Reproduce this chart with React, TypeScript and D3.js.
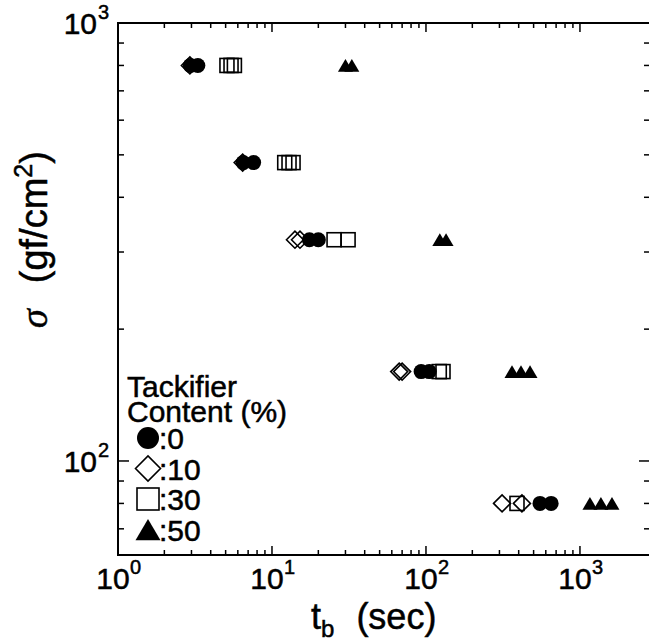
import React from 'react';
import * as d3 from 'd3';

const W = 649;
const H = 643;

// axes
const xDomain: [number, number] = [1, 2850];
const yDomain: [number, number] = [61, 1000];
const xMajorTicks = [1, 10, 100, 1000];
const xTickExps = ['0', '1', '2', '3'];
const yMajorTicks = [100, 1000];
const yTickExps = ['2', '3'];
const minorMultipliers = [2, 3, 4, 5, 6, 7, 8, 9];

// legend
const legendTitle = ['Tackifier', 'Content (%)'];
const contentLabels = [':0', ':10', ':30', ':50'];

// data: [t_b (sec), sigma (gf/cm2)]
const content0: [number, number][] = [
  [2.95, 800], [3.3, 800],
  [6.5, 480], [7.6, 480],
  [17.5, 320], [20.0, 320],
  [93, 160], [105, 160],
  [550, 80], [650, 80],
];
const content10: [number, number][] = [
  [2.93, 800],
  [6.45, 480],
  [14.1, 320], [15.2, 320],
  [67, 160], [70, 160],
  [312, 80], [420, 80],
];
const content30: [number, number][] = [
  [5.1, 800], [5.42, 800], [5.7, 800],
  [12.1, 480], [12.9, 480], [13.7, 480],
  [25.3, 320], [31.2, 320],
  [122, 160], [129, 160],
  [390, 80],
];
const content50: [number, number][] = [
  [30, 800], [33, 800],
  [123, 320], [135, 320],
  [362, 160], [414, 160], [474, 160],
  [1161, 80], [1368, 80], [1614, 80],
];

const FONT = 'Liberation Sans, Arial, Helvetica, sans-serif';

type Kind = 'circle' | 'diamond' | 'square' | 'triangle';

function Marker({ kind, x, y, s }: { kind: Kind; x: number; y: number; s: number }) {
  if (kind === 'circle') return <circle cx={x} cy={y} r={s / 2} fill="#000" />;
  if (kind === 'diamond') {
    const h = s / 2;
    return (
      <path
        d={`M${x - h},${y}L${x},${y - h}L${x + h},${y}L${x},${y + h}Z`}
        fill="none"
        stroke="#000"
        strokeWidth={1.6}
      />
    );
  }
  if (kind === 'square') {
    const h = s / 2;
    return <rect x={x - h} y={y - h} width={s} height={s} fill="none" stroke="#000" strokeWidth={1.6} />;
  }
  const h = s / 2;
  const th = s * 0.85;
  return (
    <path d={`M${x - h},${y + th / 2}L${x},${y - th / 2}L${x + h},${y + th / 2}Z`} fill="#000" />
  );
}

export default function App() {
  const x = d3.scaleLog().domain(xDomain).range([118, 650]);
  const y = d3.scaleLog().domain(yDomain).range([555, 23]);
  const [x0, x1] = x.range();
  const [yb, yt] = y.range();

  const xMinor: number[] = [];
  xMajorTicks.slice(0, 3).forEach((d) => minorMultipliers.forEach((m) => xMinor.push(d * m)));
  const yMinor: number[] = [];
  [10, 100].forEach((d) => minorMultipliers.forEach((m) => {
    const v = d * m;
    if (v >= yDomain[0] && v < yDomain[1]) yMinor.push(v);
  }));

  const series: { kind: Kind; pts: [number, number][] }[] = [
    { kind: 'diamond', pts: content10 },
    { kind: 'square', pts: content30 },
    { kind: 'circle', pts: content0 },
    { kind: 'triangle', pts: content50 },
  ];
  const dataSize: Record<Kind, number> = { circle: 15, diamond: 17, square: 14, triangle: 15 };
  const legendKinds: Kind[] = ['circle', 'diamond', 'square', 'triangle'];
  const legendSize: Record<Kind, number> = { circle: 22, diamond: 25, square: 22, triangle: 25 };
  const textStroke = { stroke: '#000', strokeWidth: 0.5 };

  return (
    <svg width={W} height={H} style={{ position: 'absolute', left: 0, top: 0, background: '#fff' }}>
      <rect x={0} y={0} width={W} height={H} fill="#fff" />
      {/* frame */}
      <g stroke="#000" strokeWidth={2} fill="none">
        <line x1={x0} y1={yt} x2={W} y2={yt} />
        <line x1={x0} y1={yb} x2={W} y2={yb} />
        <line x1={x0} y1={yt - 1} x2={x0} y2={yb + 1} />
      </g>
      {/* ticks */}
      <g stroke="#000" strokeWidth={1.5}>
        {xMajorTicks.map((d) => (
          <g key={'xM' + d}>
            <line x1={x(d)} x2={x(d)} y1={yb} y2={yb - 9} />
            <line x1={x(d)} x2={x(d)} y1={yt} y2={yt + 9} />
          </g>
        ))}
        {xMinor.map((d) => (
          <g key={'xm' + d}>
            <line x1={x(d)} x2={x(d)} y1={yb} y2={yb - 5} />
            <line x1={x(d)} x2={x(d)} y1={yt} y2={yt + 5} />
          </g>
        ))}
        {yMajorTicks.map((d) => (
          <g key={'yM' + d}>
            <line x1={x0} x2={x0 + 11} y1={y(d)} y2={y(d)} />
            <line x1={x1} x2={x1 - 11} y1={y(d)} y2={y(d)} />
          </g>
        ))}
        {yMinor.map((d) => (
          <g key={'ym' + d}>
            <line x1={x0} x2={x0 + 6} y1={y(d)} y2={y(d)} />
            <line x1={x1} x2={x1 - 6} y1={y(d)} y2={y(d)} />
          </g>
        ))}
      </g>
      {/* tick labels */}
      <g fontFamily={FONT} fill="#000" {...textStroke}>
        {xMajorTicks.map((d, i) => (
          <g key={'xl' + d}>
            <text x={x(d) - 5} y={589} fontSize={30} textAnchor="middle">10</text>
            <text x={x(d) + 12} y={574} fontSize={20} textAnchor="start">{xTickExps[i]}</text>
          </g>
        ))}
        {yMajorTicks.map((d, i) => (
          <g key={'yl' + d}>
            <text x={97} y={y(d) + 11} fontSize={30} textAnchor="end">10</text>
            <text x={98} y={y(d) - 4} fontSize={20} textAnchor="start">{yTickExps[i]}</text>
          </g>
        ))}
      </g>
      {/* axis titles */}
      <text x={311} y={629} fontFamily={FONT} fontSize={36} fill="#000" {...textStroke}>
        t<tspan fontSize={24} dy={8}>b</tspan>
        <tspan dy={-8} dx={22}>(sec)</tspan>
      </text>
      <text transform="translate(47,328) rotate(-90)" fontFamily={FONT} fontSize={38} fill="#000" {...textStroke}>
        <tspan fontFamily="Liberation Serif, serif" fontStyle="italic">σ</tspan>
        <tspan dx={26}>(gf/cm</tspan>
        <tspan fontSize={25} dy={-15}>2</tspan>
        <tspan dy={15}>)</tspan>
      </text>
      {/* data */}
      {series.map((s) =>
        s.pts.map((p, i) => (
          <Marker key={s.kind + i} kind={s.kind} x={x(p[0])} y={y(p[1])} s={dataSize[s.kind]} />
        ))
      )}
      {/* legend */}
      <g fontFamily={FONT} fill="#000">
        {legendTitle.map((t, i) => (
          <text key={t} x={127} y={397 + i * 25} fontSize={30} {...textStroke}>{t}</text>
        ))}
        {legendKinds.map((k, i) => {
          const cy = 438 + i * 30.5;
          return (
            <g key={k}>
              <Marker kind={k} x={148} y={cy} s={legendSize[k]} />
              <text x={159} y={cy + 11} fontSize={30} {...textStroke}>{contentLabels[i]}</text>
            </g>
          );
        })}
      </g>
    </svg>
  );
}
